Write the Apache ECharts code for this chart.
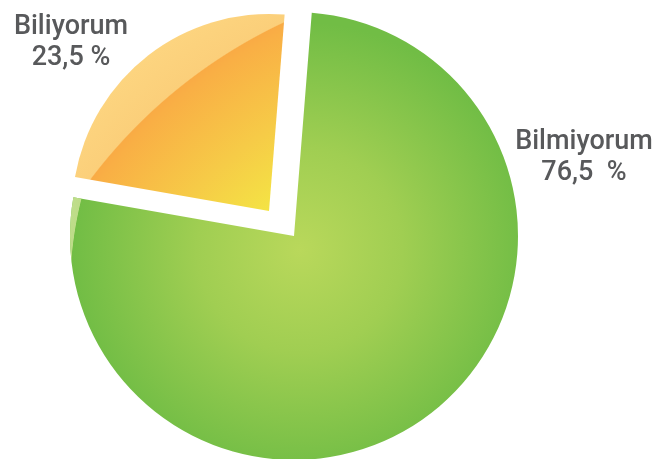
<!DOCTYPE html>
<html>
<head>
<meta charset="utf-8">
<style>
  html, body { margin: 0; padding: 0; background: #ffffff; }
  #chart { width: 661px; height: 459px; }
</style>
<script src="https://cdn.jsdelivr.net/npm/echarts@6/dist/echarts.min.js"></script>
</head>
<body>
<div id="chart"></div>
<script>
// ---- data ----
const categories = ['Biliyorum', 'Bilmiyorum'];
const values = [23.5, 76.5];
const valueLabels = ['23,5 %', '76,5  %'];

// ---- styles ----
const greenFill = {
  type: 'radial', x: 300, y: 250, r: 228, global: true,
  colorStops: [
    { offset: 0, color: '#b9d85b' },
    { offset: 0.45, color: '#a0ce52' },
    { offset: 1, color: '#71bd45' }
  ]
};
// light crescent on the left rim of the green slice
const greenRim = {
  type: 'radial', x: 440, y: 289, r: 380, global: true,
  colorStops: [
    { offset: 0, color: 'rgba(189,220,136,0)' },
    { offset: 0.972, color: 'rgba(189,220,136,0)' },
    { offset: 0.974, color: 'rgba(189,220,136,1)' },
    { offset: 1, color: 'rgba(192,222,140,1)' }
  ]
};
// orange slice: yellow core, orange body, light peach crescent on the rim
const orangeFill = {
  type: 'radial', x: 503, y: 490, r: 565, global: true,
  colorStops: [
    { offset: 0, color: '#f4e843' },
    { offset: 0.644, color: '#f4e444' },
    { offset: 0.76, color: '#f6cb47' },
    { offset: 0.9, color: '#f9af45' },
    { offset: 0.913, color: '#f9ab45' },
    { offset: 0.915, color: '#fbcf7a' },
    { offset: 1, color: '#fdd580' }
  ]
};
const transparent = 'rgba(0,0,0,0)';

const startAngle = 170.05;
const greenCenter = [294, 236];
const orangeCenter = [269, 211];

const makeData = (colorIndex, fill, withSel) => categories.map((c, i) => ({
  name: c,
  value: values[i],
  itemStyle: { color: i === colorIndex ? fill : transparent }
}));

const labelPos = [
  { x: 71, y: 43 },
  { x: 584, y: 158 }
];

const chart = echarts.init(document.getElementById('chart'), null, { renderer: 'canvas' });
chart.setOption({
  animation: false,
  backgroundColor: '#ffffff',
  series: [
    {
      type: 'pie',
      center: greenCenter,
      radius: [0, 224],
      startAngle: startAngle,
      clockwise: true,
      silent: true,
      data: makeData(1, greenFill),
      label: {
        show: true,
        position: 'outside',
        formatter: (p) => p.name + '\n' + valueLabels[p.dataIndex],
        fontFamily: 'Roboto',
        fontSize: 27,
        fontWeight: 500,
        lineHeight: 31,
        color: '#58595b',
        align: 'center',
        overflow: 'none',
        width: 300
      },
      labelLine: { show: false },
      labelLayout: (params) => ({
        x: labelPos[params.dataIndex].x,
        y: labelPos[params.dataIndex].y,
        align: 'center',
        verticalAlign: 'middle'
      })
    },
    {
      type: 'pie',
      center: greenCenter,
      radius: [0, 224],
      startAngle: startAngle,
      clockwise: true,
      silent: true,
      data: makeData(1, greenRim),
      label: { show: false },
      labelLine: { show: false }
    },
    {
      type: 'pie',
      center: orangeCenter,
      radius: [0, 197],
      startAngle: startAngle,
      clockwise: true,
      silent: true,
      data: makeData(0, orangeFill),
      label: { show: false },
      labelLine: { show: false }
    }
  ]
});
</script>
</body>
</html>
